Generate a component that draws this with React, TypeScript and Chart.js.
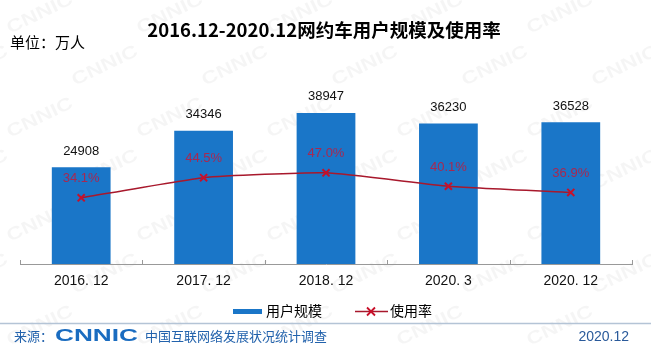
import React, { useEffect, useRef } from "react";
import { Chart, registerables } from "chart.js";

Chart.register(...registerables);

const categories = ["2016. 12", "2017. 12", "2018. 12", "2020. 3", "2020. 12"];
const userScale = [24908, 34346, 38947, 36230, 36528];
const usageRate = [34.1, 44.5, 47.0, 40.1, 36.9];
const rateLabels = ["34.1%", "44.5%", "47.0%", "40.1%", "36.9%"];
const seriesNames = ["用户规模", "使用率"];
const titleText = "2016.12-2020.12网约车用户规模及使用率";
const unitText = "单位：万人";
const sourceLabel = "来源：";
const sourceOrg = "CNNIC";
const sourceName = "中国互联网络发展状况统计调查";
const sourceDate = "2020.12";

const BLUE = "#1a76c8";
const LINE_RED = "#a8182c";
const MARK_RED = "#c8102a";
const PCT_COLOR = "#a82850";
const SANS = '"Liberation Sans", Arial, "Noto Sans CJK SC", sans-serif';
const CJK = '"Noto Sans CJK SC", "Liberation Sans", sans-serif';

const bgPlugin = {
  id: "bgWatermark",
  beforeDraw(chart: any) {
    const ctx = chart.ctx;
    ctx.save();
    ctx.fillStyle = "#ffffff";
    ctx.fillRect(0, 0, chart.width, chart.height);
    ctx.fillStyle = "rgba(0,0,0,0.04)";
    ctx.font = "bold 18px " + SANS;
    ctx.textAlign = "center";
    ctx.textBaseline = "middle";
    for (let row = 0; row < 8; row++) {
      for (let col = -1; col < 7; col++) {
        const x = col * 130 + (row % 2) * 65 + 40;
        const y = row * 52 + 14;
        ctx.save();
        ctx.translate(x, y);
        ctx.rotate(-0.45);
        ctx.scale(1.25, 1);
        ctx.fillText("CNNIC", 0, 0);
        ctx.restore();
      }
    }
    ctx.restore();
  },
};

const labelPlugin = {
  id: "labelsAndTicks",
  afterDatasetsDraw(chart: any) {
    const ctx = chart.ctx;
    ctx.save();
    const xs = chart.scales.x;
    const bottom = chart.chartArea.bottom;
    ctx.strokeStyle = "#999999";
    ctx.lineWidth = 1;
    const n = categories.length;
    for (let i = 0; i <= n; i++) {
      let x;
      if (i === 0) x = xs.left;
      else if (i === n) x = xs.right;
      else x = (xs.getPixelForTick(i - 1) + xs.getPixelForTick(i)) / 2;
      x = Math.round(x) + 0.5;
      ctx.beginPath();
      ctx.moveTo(x, bottom - 4);
      ctx.lineTo(x, bottom);
      ctx.stroke();
    }
    ctx.textAlign = "center";
    ctx.textBaseline = "middle";
    ctx.font = "13px " + SANS;
    ctx.fillStyle = "#111111";
    chart.getDatasetMeta(0).data.forEach((el: any, i: number) => {
      ctx.fillText(String(userScale[i]), el.x, el.y - 16);
    });
    ctx.fillStyle = PCT_COLOR;
    chart.getDatasetMeta(1).data.forEach((el: any, i: number) => {
      ctx.fillText(rateLabels[i], el.x, el.y - 19);
    });
    ctx.restore();
  },
  afterDraw(chart: any) {
    const ctx = chart.ctx;
    ctx.save();
    ctx.fillStyle = "#000000";
    ctx.textAlign = "center";
    ctx.textBaseline = "middle";
    ctx.font = "bold 18.5px " + CJK;
    ctx.fillText(titleText, 324, 30);
    ctx.textAlign = "left";
    ctx.font = "15px " + CJK;
    ctx.fillText(unitText, 10, 42);
    // legend
    ctx.fillStyle = BLUE;
    ctx.fillRect(233, 309, 29, 5);
    ctx.fillStyle = "#000000";
    ctx.font = "14px " + CJK;
    ctx.textBaseline = "middle";
    ctx.fillText(seriesNames[0], 266, 311);
    ctx.strokeStyle = LINE_RED;
    ctx.lineWidth = 1.5;
    ctx.beginPath();
    ctx.moveTo(355, 311.5);
    ctx.lineTo(388, 311.5);
    ctx.stroke();
    ctx.strokeStyle = MARK_RED;
    ctx.lineWidth = 1.8;
    ctx.beginPath();
    ctx.moveTo(367, 307.5);
    ctx.lineTo(375, 315.5);
    ctx.moveTo(375, 307.5);
    ctx.lineTo(367, 315.5);
    ctx.stroke();
    ctx.fillStyle = "#000000";
    ctx.fillText(seriesNames[1], 390, 311);
    // footer line
    ctx.strokeStyle = "#b4c4d6";
    ctx.lineWidth = 1.5;
    ctx.beginPath();
    ctx.moveTo(0, 323.5);
    ctx.lineTo(651, 323.5);
    ctx.stroke();
    // footer texts
    ctx.fillStyle = "#2262ac";
    ctx.font = "13px " + CJK;
    ctx.fillText(sourceLabel, 14, 336);
    ctx.save();
    ctx.font = "900 17px " + SANS;
    const w = ctx.measureText(sourceOrg).width;
    ctx.translate(55, 336);
    ctx.scale(83 / w, 1);
    ctx.fillStyle = "#1a6cc0";
    ctx.fillText(sourceOrg, 0, 0);
    ctx.restore();
    ctx.fillStyle = "#2262ac";
    ctx.font = "13px " + CJK;
    ctx.fillText(sourceName, 145, 336);
    ctx.textAlign = "right";
    ctx.font = "14px " + SANS;
    ctx.fillStyle = "#2a5a9a";
    ctx.fillText(sourceDate, 629, 337);
    ctx.restore();
  },
};

export default function App() {
  const ref = useRef<HTMLCanvasElement | null>(null);
  useEffect(() => {
    if (!ref.current) return;
    const chart = new Chart(ref.current, {
      type: "bar",
      data: {
        labels: categories,
        datasets: [
          {
            type: "bar",
            label: seriesNames[0],
            data: userScale,
            backgroundColor: BLUE,
            borderWidth: 0,
            barPercentage: 0.48,
            categoryPercentage: 1,
            yAxisID: "y",
            order: 1,
          },
          {
            type: "line",
            label: seriesNames[1],
            data: usageRate,
            borderColor: LINE_RED,
            borderWidth: 1.5,
            pointStyle: "crossRot",
            pointRadius: 5,
            pointBorderWidth: 2,
            pointBorderColor: MARK_RED,
            pointBackgroundColor: MARK_RED,
            tension: 0.15,
            yAxisID: "y2",
            order: 0,
          } as any,
        ],
      },
      options: {
        responsive: false,
        animation: false,
        devicePixelRatio: 1,
        layout: { padding: { left: 20, right: 19, top: 70, bottom: 0 } },
        plugins: {
          legend: { display: false },
          title: { display: false },
          tooltip: { enabled: false },
        },
        scales: {
          x: {
            grid: { display: false, drawTicks: false },
            border: { display: true, color: "#999999", width: 1 },
            ticks: {
              color: "#111111",
              font: { size: 14, family: SANS },
              padding: 9,
              maxRotation: 0,
            },
            afterFit: (s: any) => {
              s.height = 87;
            },
          },
          y: { display: false, min: 0, max: 50000 },
          y2: { display: false, min: 0, max: 100 },
        },
      },
      plugins: [bgPlugin, labelPlugin],
    });
    return () => chart.destroy();
  }, []);
  return (
    <div style={{ position: "fixed", left: 0, top: 0, width: 651, height: 351 }}>
      <canvas ref={ref} width={651} height={351} />
    </div>
  );
}
